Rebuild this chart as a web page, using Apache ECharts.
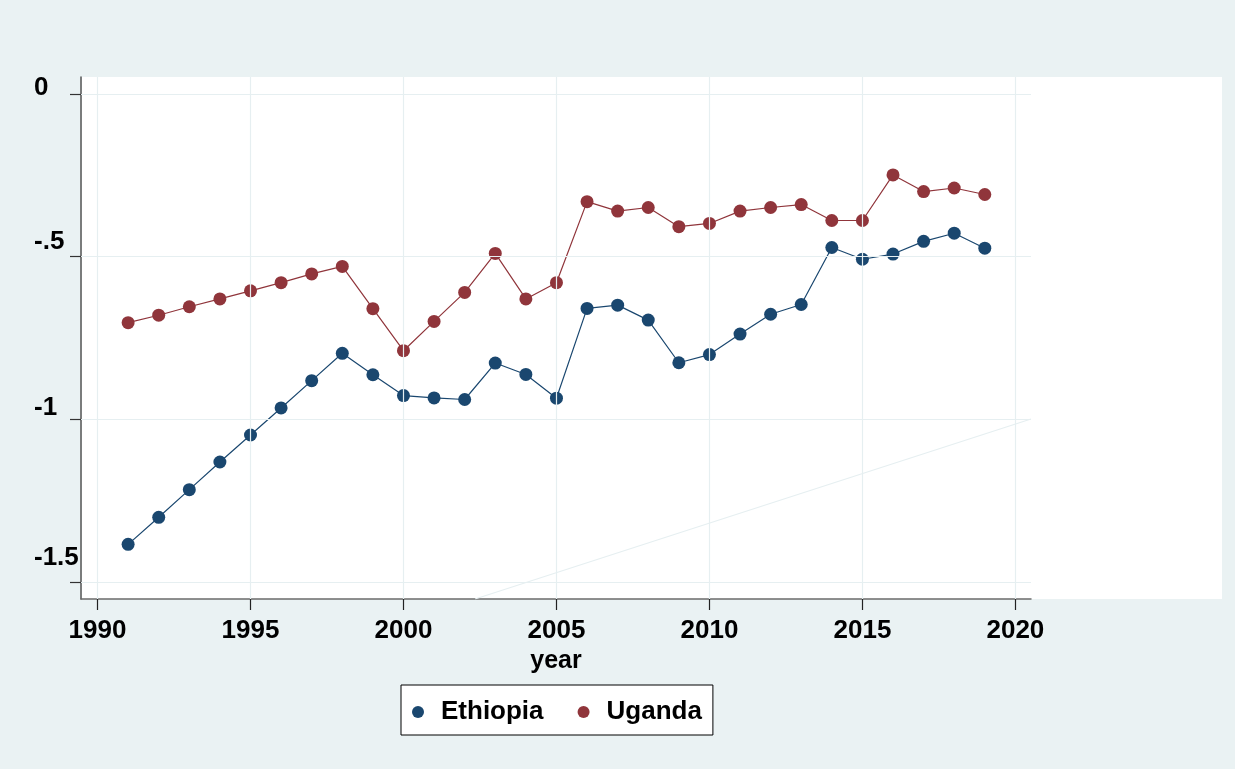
<!DOCTYPE html>
<html>
<head>
<meta charset="utf-8">
<script src="https://cdn.jsdelivr.net/npm/echarts@6/dist/echarts.min.js"></script>
<style>
  html, body { margin: 0; padding: 0; background: #eaf2f3; }
  #chart { width: 1235px; height: 769px; }
</style>
</head>
<body>
<div id="chart"></div>
<script>
// Years on the horizontal axis
const years = [1991, 1992, 1993, 1994, 1995, 1996, 1997, 1998, 1999, 2000,
               2001, 2002, 2003, 2004, 2005, 2006, 2007, 2008, 2009, 2010,
               2011, 2012, 2013, 2014, 2015, 2016, 2017, 2018, 2019];

const ethiopia = [-1.384, -1.301, -1.216, -1.131, -1.048, -0.965, -0.881, -0.797, -0.863, -0.927,
                  -0.934, -0.939, -0.827, -0.862, -0.935, -0.659, -0.649, -0.695, -0.826, -0.801,
                  -0.738, -0.677, -0.647, -0.472, -0.508, -0.492, -0.453, -0.428, -0.474];

const uganda = [-0.703, -0.680, -0.654, -0.630, -0.605, -0.580, -0.553, -0.530, -0.660, -0.789,
                -0.699, -0.610, -0.490, -0.630, -0.580, -0.331, -0.360, -0.349, -0.408, -0.398,
                -0.360, -0.349, -0.340, -0.389, -0.389, -0.249, -0.300, -0.289, -0.309];

// Tick positions and their printed labels
const xTicks = [1990, 1995, 2000, 2005, 2010, 2015, 2020];
const yTicks = [0, -0.5, -1, -1.5];
const yTickLabels = ['0', '-.5', '-1', '-1.5'];

// Faint reference line across the lower right of the plot
const refLine = [[2002.34, -1.552], [2020.51, -0.999]];

const xRange = [1989.46, 2020.51];
const yRange = [-1.552, 0.052];

const NAVY = '#1a476f';
const MAROON = '#90353b';
const GRID = '#e6eff1';
const FONT = '"Liberation Sans", Arial, Helvetica, sans-serif';

const chart = echarts.init(document.getElementById('chart'), null, { renderer: 'canvas' });

// Per-label vertical nudges for the y tick labels
const yRich = {};
const yPad = [13, 30, 24, 49];
yTickLabels.forEach((t, i) => {
  yRich['k' + i] = {
    fontFamily: FONT, fontWeight: 'bold', fontSize: 26, color: '#000',
    padding: [0, 0, yPad[i], 0]
  };
});

const gridMarkLines = [];
yTicks.forEach(v => gridMarkLines.push({ yAxis: v }));
xTicks.forEach(v => gridMarkLines.push({ xAxis: v }));

const option = {
  backgroundColor: '#eaf2f3',
  animation: false,
  graphic: [{
    type: 'rect',
    z: -100,
    silent: true,
    shape: { x: 82, y: 77, width: 1140, height: 522 },
    style: { fill: '#ffffff' }
  }],
  grid: { left: 81, right: 204, top: 77, bottom: 170, containLabel: false },
  xAxis: {
    type: 'value',
    min: xRange[0], max: xRange[1],
    name: 'year',
    nameLocation: 'middle',
    nameGap: 36,
    nameTextStyle: { fontFamily: FONT, fontWeight: 'bold', fontSize: 25, color: '#000' },
    axisLine: { show: true, onZero: false, lineStyle: { color: '#6b6b6b', width: 1.5 } },
    axisTick: { show: true, length: 11, customValues: xTicks, lineStyle: { color: '#222', width: 1.2 } },
    axisLabel: {
      customValues: xTicks,
      margin: 19,
      fontFamily: FONT, fontWeight: 'bold', fontSize: 26, color: '#000',
      formatter: v => String(v)
    },
    splitLine: { show: false }
  },
  yAxis: {
    type: 'value',
    min: yRange[0], max: yRange[1],
    axisLine: { show: true, onZero: false, lineStyle: { color: '#555', width: 1.5 } },
    axisTick: { show: true, length: 11, customValues: yTicks, lineStyle: { color: '#333', width: 1.2 } },
    axisLabel: {
      customValues: yTicks,
      align: 'left',
      margin: 47,
      formatter: v => {
        const i = yTicks.findIndex(t => Math.abs(t - v) < 1e-6);
        return i < 0 ? '' : '{k' + i + '|' + yTickLabels[i] + '}';
      },
      rich: yRich
    },
    splitLine: { show: false }
  },
  legend: {
    left: 401, top: 685,
    orient: 'horizontal',
    backgroundColor: '#ffffff',
    borderColor: '#000',
    borderWidth: 1,
    borderRadius: 0,
    padding: [14, 11, 10, 11],
    itemWidth: 12, itemHeight: 12,
    itemGap: 34,
    icon: 'circle',
    textStyle: { fontFamily: FONT, fontWeight: 'bold', fontSize: 26, color: '#000', padding: [0, 0, 0, 12] },
    data: ['Ethiopia', 'Uganda']
  },
  series: [
    {
      name: 'gridlines',
      type: 'line',
      data: [],
      silent: true,
      z: 0,
      markLine: {
        silent: true,
        symbol: 'none',
        label: { show: false },
        lineStyle: { color: GRID, width: 1.2, type: 'solid' },
        emphasis: { disabled: true },
        data: gridMarkLines,
        animation: false
      }
    },
    {
      name: 'ref',
      type: 'line',
      data: refLine,
      silent: true,
      z: 1,
      showSymbol: false,
      clip: true,
      lineStyle: { color: GRID, width: 1.2 },
      itemStyle: { color: GRID }
    },
    {
      name: 'Ethiopia',
      type: 'line',
      data: years.map((y, i) => [y, ethiopia[i]]),
      symbol: 'circle',
      symbolSize: 13,
      lineStyle: { color: NAVY, width: 1.2 },
      itemStyle: { color: NAVY },
      z: 3
    },
    {
      name: 'Uganda',
      type: 'line',
      data: years.map((y, i) => [y, uganda[i]]),
      symbol: 'circle',
      symbolSize: 13,
      lineStyle: { color: MAROON, width: 1.2 },
      itemStyle: { color: MAROON },
      z: 3
    }
  ]
};

chart.setOption(option);
</script>
</body>
</html>
